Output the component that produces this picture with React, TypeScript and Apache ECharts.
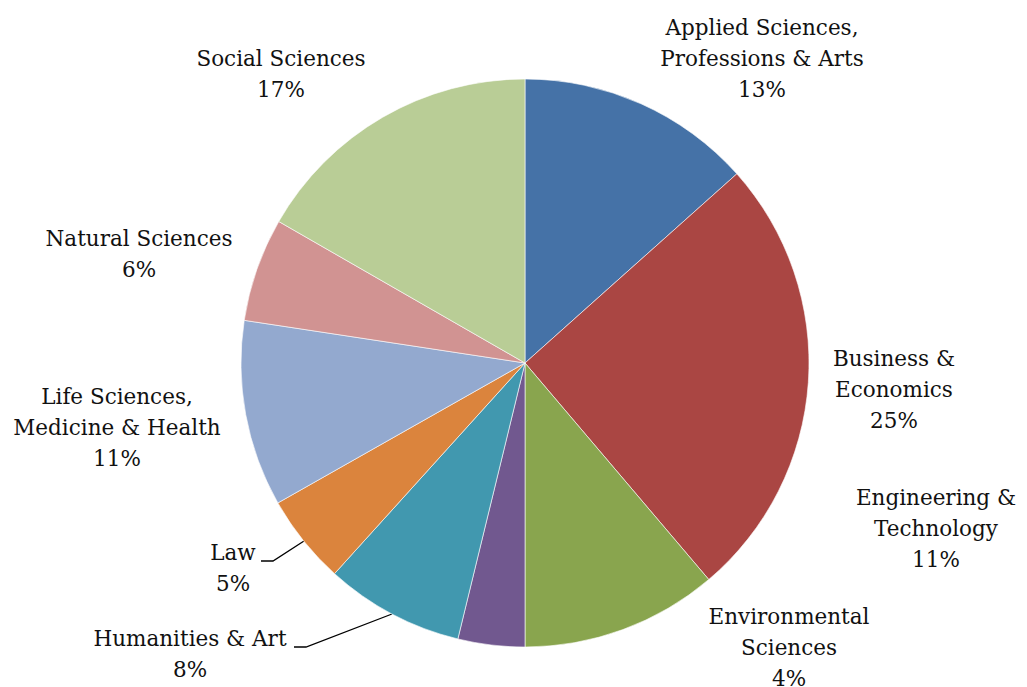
import React, { useEffect, useRef } from "react";
import * as echarts from "echarts";

const categories = [
  "Applied Sciences,\nProfessions & Arts",
  "Business &\nEconomics",
  "Engineering &\nTechnology",
  "Environmental\nSciences",
  "Humanities & Art",
  "Law",
  "Life Sciences,\nMedicine & Health",
  "Natural Sciences",
  "Social Sciences",
];
const values = [13.4, 25.4, 11.2, 3.8, 7.9, 5.1, 10.6, 5.9, 16.7];
const colors = [
  "#4572A7",
  "#AA4643",
  "#89A54E",
  "#71588F",
  "#4198AF",
  "#DB843D",
  "#93A9CF",
  "#D19392",
  "#B9CD96",
];

// label block centres (layout only)
const labelCenters: [number, number][] = [
  [762, 58],
  [894, 389],
  [936, 528],
  [789, 647],
  [190, 654],
  [233, 568],
  [117, 427],
  [139, 254],
  [281, 74],
];
const leaderLines: Record<number, [number, number][]> = {
  4: [
    [294, 647],
    [306, 647],
    [392, 614],
  ],
  5: [
    [261, 561],
    [273, 561],
    [304, 541],
  ],
};

export default function App() {
  const ref = useRef<HTMLDivElement>(null);
  useEffect(() => {
    document.body.style.margin = "0";
    const chart = echarts.init(ref.current!, null, { renderer: "svg" });
    const total = values.reduce((a, b) => a + b, 0);
    chart.setOption({
      animation: false,
      backgroundColor: "#fff",
      series: [
        {
          type: "pie",
          center: [525, 363],
          radius: 284,
          startAngle: 90,
          clockwise: true,
          silent: true,
          itemStyle: { borderColor: "#ffffff", borderWidth: 0.6 },
          label: {
            show: true,
            position: "outside",
            fontFamily: "DejaVu Serif",
            fontSize: 21.5,
            lineHeight: 31,
            color: "#111",
            align: "center",
            overflow: "none",
            formatter: (p: any) =>
              `${p.name}\n${Math.round((p.value / total) * 100)}%`,
          },
          labelLine: {
            show: true,
            lineStyle: { color: "#000", width: 1.3 },
            smooth: false,
          },
          labelLayout: (params: any) => {
            const i = params.dataIndex;
            const [cx, cy] = labelCenters[i];
            const res: any = {
              x: cx,
              y: cy,
              align: "center",
              verticalAlign: "middle",
              hideOverlap: false,
            };
            if (leaderLines[i]) {
              res.labelLinePoints = leaderLines[i];
            }
            return res;
          },
          data: categories.map((c, i) => ({
            name: c,
            value: values[i],
            itemStyle: { color: colors[i] },
            labelLine: { show: !!leaderLines[i] },
          })),
        },
      ],
    });
    return () => chart.dispose();
  }, []);
  return <div ref={ref} style={{ width: 1027, height: 687 }} />;
}
